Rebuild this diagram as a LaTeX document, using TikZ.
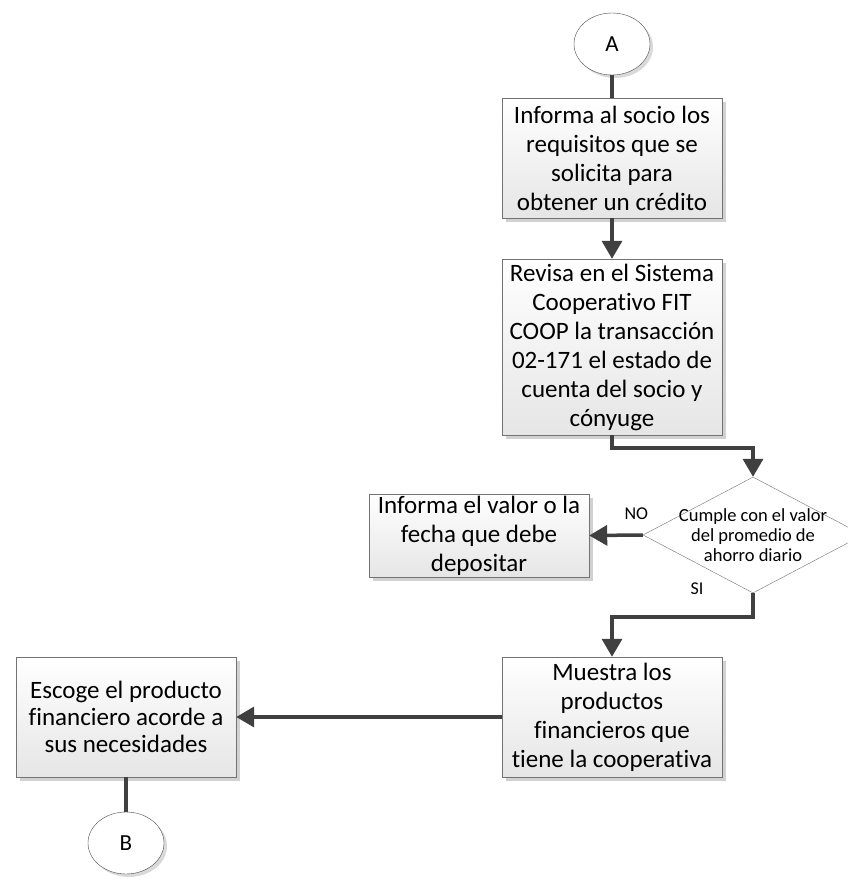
\documentclass[tikz,border=0pt]{standalone}
\usepackage{fontspec}
\setmainfont{Carlito}[Ligatures=NoCommon]
\usetikzlibrary{shapes,shapes.geometric,positioning,calc,shadows,arrows.meta}

\begin{document}
\begin{tikzpicture}
            [
            x=1pt, y=-1pt,
            my box/.style={rectangle, draw=black!55, top color=white,
                bottom color=black!10, minimum width=220pt, align=center,
                inner sep=2pt, font=\fontsize{25}{29}\selectfont,
                drop shadow={shadow xshift=4pt, shadow yshift=-4pt,
                    fill=black!18, opacity=1}},
            my ref/.style={ellipse, draw=black!70, fill=white, minimum width=76pt,
                minimum height=62pt, inner sep=0pt, font=\fontsize{23}{27}\selectfont,
                drop shadow={shadow xshift=3pt, shadow yshift=-3pt,
                    fill=black!15, opacity=1}},
            my decision/.style={diamond, aspect=1.9, draw=black!55, fill=white,
                minimum width=220pt, minimum height=116pt, inner sep=-8pt,
                align=center, font=\fontsize{18.5}{20}\selectfont},
            my line/.style={draw=black!75, line width=3.5pt},
            my link/.style={my line, -{Triangle[width=20pt,length=18pt]}},
            my label/.style={font=\fontsize{18}{20}\selectfont}
            ]
            \useasboundingbox (0,0) rectangle (848,881);

            \node (A) [my ref] at (612,44) {A};
            \node (req) [my box, minimum height=120pt] at (612,158)
                {Informa al socio los\\requisitos que se\\solicita para\\obtener un crédito};
            \node (rev) [my box, minimum height=176pt] at (612,347)
                {Revisa en el Sistema\\Cooperativo FIT\\COOP la transacción\\02-171 el estado de\\cuenta del socio y\\cónyuge};
            \node (dec) [my decision] at (753,535)
                {Cumple con el valor\\del promedio de\\ahorro diario};
            \node (inf) [my box, minimum height=81pt] at (479,535.5)
                {Informa el valor o la\\fecha que debe\\depositar};
            \node (mue) [my box, minimum height=120pt] at (612,717)
                {Muestra los\\productos\\financieros que\\tiene la cooperativa};
            \node (esc) [my box, minimum height=120pt, font=\fontsize{25}{27}\selectfont]
                at (126,717)
                {Escoge el producto\\financiero acorde a\\sus necesidades};
            \node (B) [my ref] at (126,843) {B};

            % Connectors
            \draw [my line] (A) -- (req);
            \draw [my link] (req) -- (rev);
            \draw [my link] (rev.south) -- ++(0,13) -| (dec.north);
            \draw [my link] (dec.west) -- node [my label, pos=0.12, above=10pt] {NO} (inf.east);
            \draw [my link] (dec.south) -- ++(0,24) -| (mue.north);
            \node (si) [my label] at ($(dec.south)+(-56,-4)$) {SI};
            \draw [my link] (mue.west) -- (esc.east);
            \draw [my line] (esc) -- (B);
        \end{tikzpicture}
\end{document}
